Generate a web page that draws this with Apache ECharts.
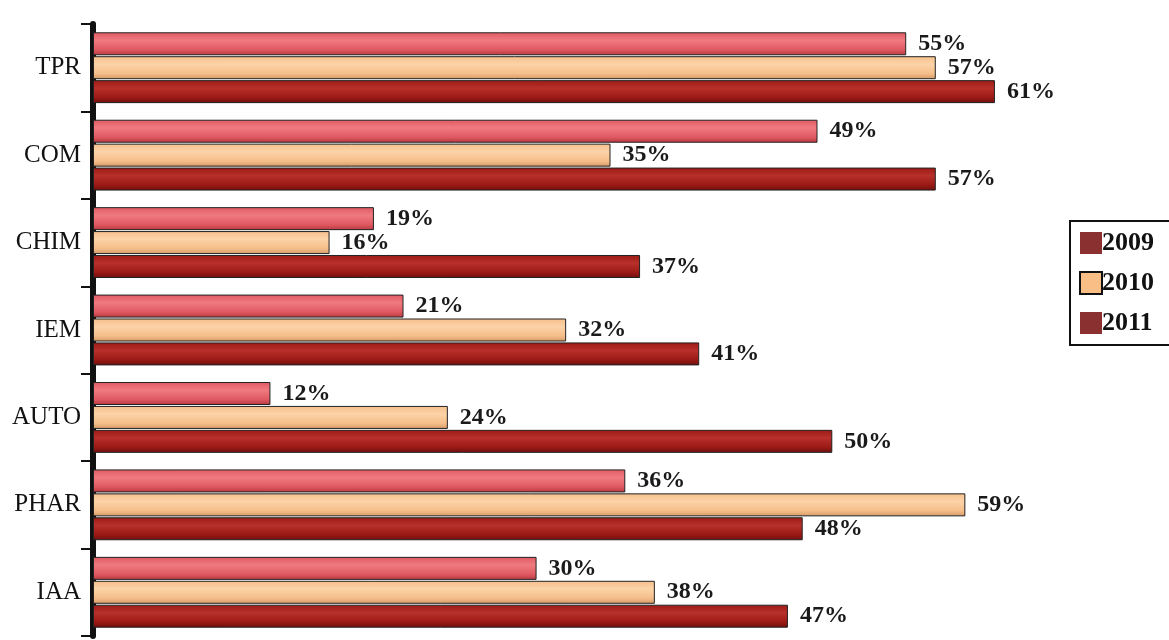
<!DOCTYPE html>
<html>
<head>
<meta charset="utf-8">
<script src="https://cdn.jsdelivr.net/npm/echarts@6/dist/echarts.min.js"></script>
<style>html,body{margin:0;padding:0;background:#fff}#c{width:1169px;height:640px}</style>
</head>
<body>
<div id="c"></div>
<script>
const categories = ['TPR', 'COM', 'CHIM', 'IEM', 'AUTO', 'PHAR', 'IAA'];
const years = ['2009', '2010', '2011'];
const values2009 = [55, 49, 19, 21, 12, 36, 30];
const values2010 = [57, 35, 16, 32, 24, 59, 38];
const values2011 = [61, 57, 37, 41, 50, 48, 47];

const serif = '"Liberation Serif", "DejaVu Serif", serif';
function grad(light, mid, dark) {
  return new echarts.graphic.LinearGradient(0, 0, 0, 1, [
    { offset: 0, color: mid },
    { offset: 0.35, color: light },
    { offset: 0.75, color: mid },
    { offset: 1, color: dark }
  ]);
}
const fills = [
  grad('#F07A80', '#E05A62', '#B8383F'),
  grad('#FCD3A8', '#F5BE8A', '#D59A66'),
  grad('#B8302A', '#9C1A16', '#6E0E0C')
];
const seriesData = [values2009, values2010, values2011];

const chart = echarts.init(document.getElementById('c'));
chart.setOption({
  animation: false,
  backgroundColor: '#fff',
  grid: { left: 93, top: 24, height: 612, right: 41 },
  xAxis: { type: 'value', min: 0, max: 70, show: false },
  yAxis: {
    type: 'category',
    data: categories,
    inverse: true,
    axisLine: { show: true, lineStyle: { color: '#111', width: 6 } },
    axisTick: { show: true, length: 12, lineStyle: { color: '#111', width: 2 } },
    axisLabel: { fontFamily: serif, fontSize: 25, color: '#111', margin: 12 }
  },
  legend: {
    orient: 'vertical',
    left: 1070,
    top: 221,
    padding: [9, 40, 9, 9],
    itemGap: 14,
    itemWidth: 22,
    itemHeight: 22,
    borderColor: '#111',
    borderWidth: 2,
    borderRadius: 0,
    icon: 'rect',
    textStyle: { fontFamily: serif, fontSize: 26, fontWeight: 'bold', color: '#111', padding: [0, 0, 0, -5] },
    data: [
      { name: years[0], itemStyle: { color: '#8B3030', borderWidth: 0 } },
      { name: years[1], itemStyle: { color: '#F8BE85', borderColor: '#111', borderWidth: 2 } },
      { name: years[2], itemStyle: { color: '#8B3030', borderWidth: 0 } }
    ]
  },
  series: years.map((y, i) => ({
    name: y,
    type: 'bar',
    data: seriesData[i],
    barWidth: 23,
    barGap: '4%',
    itemStyle: { color: fills[i], borderColor: '#222', borderWidth: 1 },
    label: {
      show: true,
      position: 'right',
      distance: 12,
      formatter: '{c}%',
      fontFamily: serif,
      fontSize: 24,
      fontWeight: 'bold',
      color: '#1a1a1a'
    }
  }))
});
</script>
</body>
</html>
